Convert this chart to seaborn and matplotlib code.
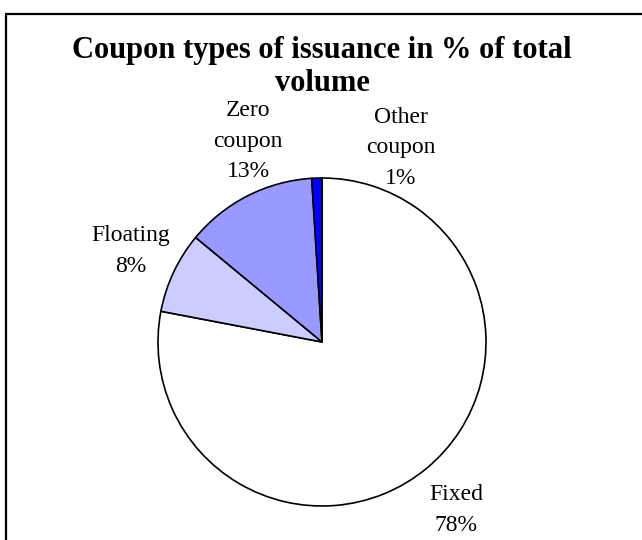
import matplotlib
matplotlib.use("Agg")
import matplotlib.pyplot as plt
import seaborn as sns
from matplotlib.patches import Rectangle

sns.set_theme(style="white")
plt.rcParams["font.family"] = ["Liberation Serif", "DejaVu Serif"]

# Share of issuance volume by coupon type
coupon_types = ["Fixed", "Floating", "Zero\ncoupon", "Other\ncoupon"]
shares = [78, 8, 13, 1]
colors = ["#FFFFFF", "#CCCCFF", "#9999FF", "#0000FF"]
title = "Coupon types of issuance in % of total\nvolume"

W, H = 642, 540
fig = plt.figure(figsize=(W / 100, H / 100), dpi=100)
ax = fig.add_axes([0, 0, 1, 1])

ax.pie(
    shares,
    colors=colors,
    startangle=90,
    counterclock=False,
    center=(322, H - 342),
    radius=164,
    frame=True,
    wedgeprops=dict(edgecolor="black", linewidth=1.2),
)
ax.set_xlim(0, W)
ax.set_ylim(0, H)
ax.set_aspect("equal")
ax.axis("off")

# Category labels placed around the pie
label_pos = {
    "Fixed": (456, H - 510),
    "Floating": (131, H - 251),
    "Zero\ncoupon": (248, H - 141),
    "Other\ncoupon": (401, H - 148),
}
for name, pct in zip(coupon_types, shares):
    x, y = label_pos[name]
    ax.text(x, y, f"{name}\n{pct}%", ha="center", va="center",
            fontsize=17, linespacing=1.62, color="black")

ax.text(322, H - 67, title, ha="center", va="center", fontsize=22,
        fontweight="bold", linespacing=1.2, color="black")

# Chart border (top and left edges visible)
ax.add_patch(Rectangle((6, -30), 700, H - 14 + 30, fill=False,
                       edgecolor="black", linewidth=1.6, clip_on=False))

fig.savefig("out.png", dpi=100, facecolor="white")
